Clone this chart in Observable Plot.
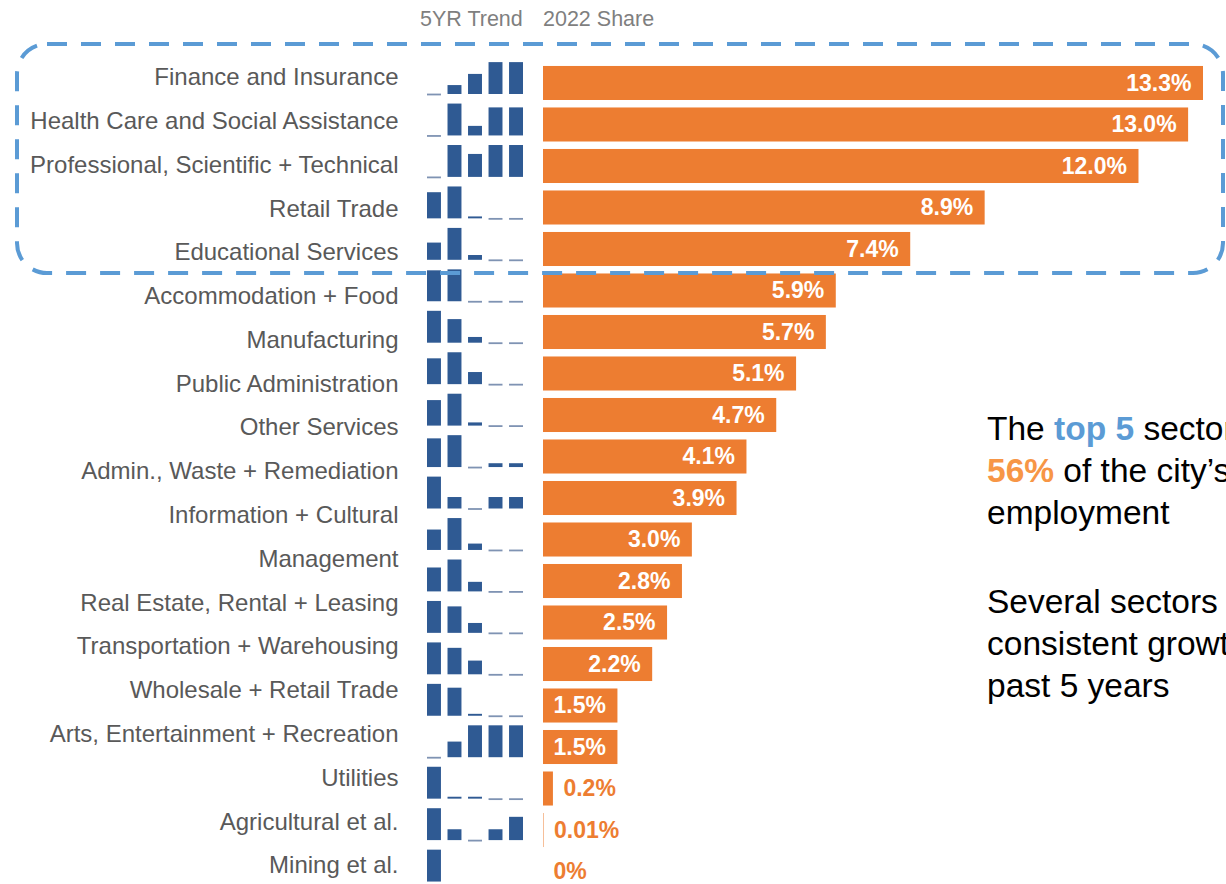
<!DOCTYPE html>
<html><head><meta charset="utf-8">
<script src="https://cdn.jsdelivr.net/npm/d3@7"></script>
<script src="https://cdn.jsdelivr.net/npm/@observablehq/plot@0.6"></script>
<style>
body{margin:0;background:#fff;}
#wrap{position:relative;width:1226px;height:884px;overflow:hidden;font-family:"Liberation Sans",Arial,sans-serif;}
#wrap > svg{position:absolute;left:0;top:0;overflow:visible;}
.hdr{position:absolute;top:9px;font-size:21.5px;line-height:21px;color:#7f7f7f;white-space:nowrap;}
.note{position:absolute;left:987px;font-size:33.5px;line-height:42px;color:#000;white-space:nowrap;}
.note b.blue{color:#5b9bd5;}
.note b.orange{color:#f79646;}
</style></head><body><div id="wrap"></div>
<script>
// ---- data ----
const sectors = [
  "Finance and Insurance",
  "Health Care and Social Assistance",
  "Professional, Scientific + Technical",
  "Retail Trade",
  "Educational Services",
  "Accommodation + Food",
  "Manufacturing",
  "Public Administration",
  "Other Services",
  "Admin., Waste + Remediation",
  "Information + Cultural",
  "Management",
  "Real Estate, Rental + Leasing",
  "Transportation + Warehousing",
  "Wholesale + Retail Trade",
  "Arts, Entertainment + Recreation",
  "Utilities",
  "Agricultural et al.",
  "Mining et al."
];
const shares = [13.3, 13.0, 12.0, 8.9, 7.4, 5.9, 5.7, 5.1, 4.7, 4.1, 3.9, 3.0, 2.8, 2.5, 2.2, 1.5, 1.5, 0.2, 0.01, 0];
const shareLabels = ["13.3%","13.0%","12.0%","8.9%","7.4%","5.9%","5.7%","5.1%","4.7%","4.1%","3.9%","3.0%","2.8%","2.5%","2.2%","1.5%","1.5%","0.2%","0.01%","0%"];
const years = [2018, 2019, 2020, 2021, 2022];
// relative 5-year trend per row (0 = flat baseline, null = nothing shown)
const trends = [
  [0, 0.28, 0.63, 1, 1],
  [0, 1, 0.30, 0.88, 0.88],
  [0, 1, 0.72, 1, 1],
  [0.82, 1, 0.06, 0, 0],
  [0.54, 1, 0.15, 0, 0],
  [0.97, 1, 0, 0, 0],
  [1, 0.74, 0.18, 0, 0],
  [0.81, 1, 0.38, 0, 0],
  [0.80, 1, 0.10, 0, 0],
  [0.90, 1, 0, 0.12, 0.12],
  [1, 0.36, 0, 0.36, 0.36],
  [0.64, 1, 0.20, 0, 0],
  [0.75, 1, 0.30, 0, 0],
  [1, 0.83, 0.31, 0, 0],
  [1, 0.83, 0.43, 0, 0],
  [1, 0.88, 0.06, 0, 0],
  [0, 0.49, 1, 1, 1],
  [1, 0.06, 0.06, 0, 0],
  [1, 0.34, 0, 0.34, 0.73],
  [1, null, null, null, null]
];

const rows = d3.range(shares.length);
const shareData = shares.map((v, i) => ({i, v, label: shareLabels[i]}));
const trendData = trends.flatMap((r, row) => r.map((v, k) => ({row, year: years[k], v})));

const wrap = document.getElementById("wrap");
const FONT = "Liberation Sans, Arial, sans-serif";

// ---- sector labels ----
const labelsPlot = Plot.plot({
  width: 1226, height: 884,
  marginTop: 0, marginBottom: 0, marginLeft: 0, marginRight: 828,
  y: {type: "band", domain: sectors, range: [55.1, 887], padding: 0, round: false, axis: null},
  marks: [
    Plot.text(sectors, {y: d => d, frameAnchor: "right", textAnchor: "end",
      fontSize: 24, fill: "#595959", fontFamily: FONT})
  ]
});
wrap.appendChild(labelsPlot);

// ---- 5YR trend sparkbars ----
const trendPlot = Plot.plot({
  width: 1226, height: 884, margin: 0,
  x: {type: "band", domain: years, range: [427, 523], paddingInner: 0.32, paddingOuter: 0, round: false, axis: null},
  y: {domain: [0, 1.3], axis: null},
  fy: {domain: rows, range: [52.55, 881.55], padding: 0, round: false, axis: null},
  marks: [
    Plot.barY(trendData.filter(d => d.v > 0), {x: "year", y: "v", fy: "row", fill: "#2f5a93"}),
    Plot.tickY(trendData.filter(d => d.v === 0), {x: "year", y: 0, fy: "row", stroke: "#7f93b3", strokeWidth: 1.8})
  ]
});
wrap.appendChild(trendPlot);

// ---- 2022 share bars ----
const sharePlot = Plot.plot({
  width: 1226, height: 884, margin: 0,
  x: {domain: [0, d3.max(shares)], range: [543, 1203], axis: null},
  y: {type: "band", domain: rows, range: [58.5, 896], padding: 0.18, round: false, axis: null},
  marks: [
    Plot.barX(shareData, {x: "v", y: "i", fill: "#ed7d31"}),
    Plot.text(shareData.filter(d => d.v >= 1), {x: "v", y: "i", text: "label", textAnchor: "end", dx: -12,
      fill: "white", fontWeight: "bold", fontSize: 23, fontFamily: FONT}),
    Plot.text(shareData.filter(d => d.v < 1), {x: "v", y: "i", text: "label", textAnchor: "start", dx: 10,
      fill: "#ed7d31", fontWeight: "bold", fontSize: 23, fontFamily: FONT})
  ]
});
wrap.appendChild(sharePlot);

// ---- dashed highlight frame around top 5 ----
const frame = d3.create("svg").attr("width", 1226).attr("height", 884);
frame.append("rect")
  .attr("x", 17).attr("y", 44).attr("width", 1206).attr("height", 229)
  .attr("rx", 30).attr("ry", 30)
  .attr("fill", "none").attr("stroke", "#5b9bd5").attr("stroke-width", 4)
  .attr("stroke-dasharray", "20 14");
wrap.appendChild(frame.node());

// ---- headers ----
const h1 = document.createElement("div");
h1.className = "hdr"; h1.style.left = "420px"; h1.textContent = "5YR Trend";
wrap.appendChild(h1);
const h2 = document.createElement("div");
h2.className = "hdr"; h2.style.left = "543px"; h2.textContent = "2022 Share";
wrap.appendChild(h2);

// ---- commentary ----
const n1 = document.createElement("div");
n1.className = "note"; n1.style.top = "408px";
n1.innerHTML = 'The <b class="blue">top 5</b> sectors make up<br><b class="orange">56%</b> of the city’s total<br>employment';
wrap.appendChild(n1);
const n2 = document.createElement("div");
n2.className = "note"; n2.style.top = "581px";
n2.innerHTML = 'Several sectors have seen<br>consistent growth over the<br>past 5 years';
wrap.appendChild(n2);
</script>
</body></html>
